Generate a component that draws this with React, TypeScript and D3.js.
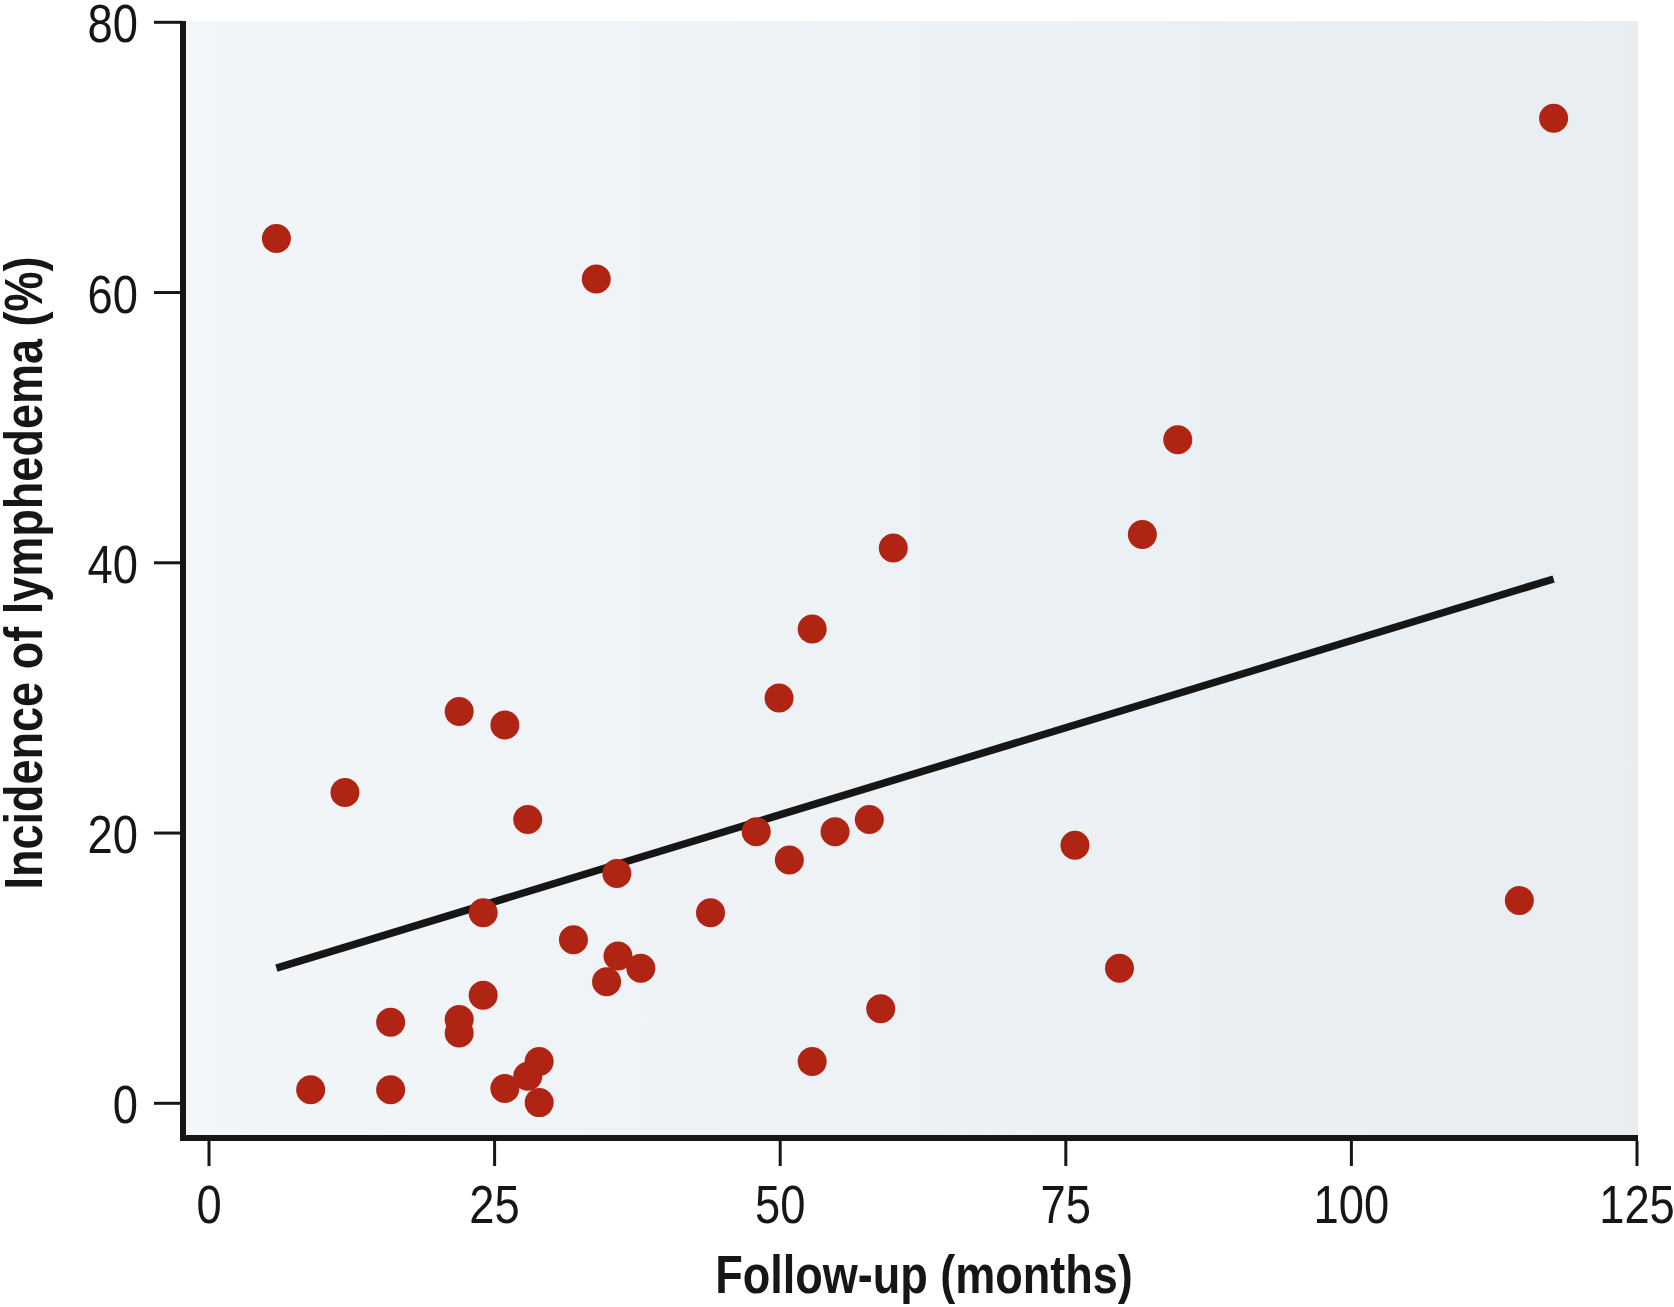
import React from "react";
import * as d3 from "d3";

const followUp = [5.9, 8.9, 11.9, 15.9, 15.9, 21.9, 21.9, 21.9, 24.0, 24.0, 25.9, 25.9, 27.9, 27.9, 28.9, 28.9, 31.9, 33.9, 34.8, 35.7, 35.8, 37.8, 43.9, 47.9, 49.9, 50.8, 52.8, 52.8, 54.8, 57.8, 58.8, 59.9, 75.8, 79.7, 81.7, 84.8, 114.7, 117.7];
const incidence = [64.0, 1.0, 23.0, 6.0, 1.0, 29.0, 6.2, 5.2, 14.1, 8.0, 28.0, 1.1, 21.0, 2.0, 3.1, 0.05, 12.1, 61.0, 9.0, 17.0, 10.9, 10.0, 14.1, 20.1, 30.0, 18.0, 35.1, 3.1, 20.1, 21.0, 7.0, 41.1, 19.1, 10.0, 42.1, 49.1, 15.0, 72.9];
const trendX = [5.9, 117.7];
const trendY = [10.0, 38.8];
const xTicks = [0, 25, 50, 75, 100, 125];
const yTicks = [0, 20, 40, 60, 80];
const xTitle = "Follow-up (months)";
const yTitle = "Incidence of lymphedema (%)";

const W = 1674;
const H = 1307;
const FONT = "'Liberation Sans', Arial, sans-serif";

export default function App() {
  const x = d3.scaleLinear().domain([0, 125]).range([209, 1637]);
  const y = d3.scaleLinear().domain([0, 80]).range([1103.3, 22.3]);
  const line = d3
    .line<number>()
    .x((d) => x(d))
    .y((_, i) => y(trendY[i]));

  const plotLeft = 183;
  const plotRight = 1638;
  const plotTop = 21;
  const plotBottom = 1138;

  return (
    <svg width={W} height={H} style={{ position: "absolute", left: 0, top: 0, background: "#fff" }}>
      <defs>
        <linearGradient id="bg" x1="0" x2="1" y1="0" y2="0">
          <stop offset="0" stopColor="#f3f6f9" />
          <stop offset="1" stopColor="#e7edf1" />
        </linearGradient>
      </defs>
      <rect x={plotLeft} y={plotTop} width={plotRight - plotLeft} height={plotBottom - plotTop} fill="url(#bg)" />

      {/* trend line */}
      <path d={line(trendX) || ""} stroke="#161616" strokeWidth={7.5} fill="none" />

      {/* points */}
      {followUp.map((fx, i) => (
        <circle key={i} cx={x(fx)} cy={y(incidence[i])} r={14.5} fill="#b02414" />
      ))}

      {/* axes */}
      <line x1={plotLeft} x2={plotLeft} y1={plotTop} y2={plotBottom + 3} stroke="#161616" strokeWidth={6} />
      <line x1={plotLeft - 3} x2={plotRight} y1={plotBottom} y2={plotBottom} stroke="#161616" strokeWidth={6} />

      {yTicks.map((t) => (
        <g key={"y" + t}>
          <line x1={154} x2={plotLeft} y1={y(t)} y2={y(t)} stroke="#161616" strokeWidth={3} />
          <g transform={`translate(138,${y(t) + 20}) scale(0.84,1)`}>
            <text textAnchor="end" fontFamily={FONT} fontSize={54} fill="#161616">
              {t}
            </text>
          </g>
        </g>
      ))}

      {xTicks.map((t) => (
        <g key={"x" + t}>
          <line x1={x(t)} x2={x(t)} y1={plotBottom + 3} y2={1166} stroke="#161616" strokeWidth={3} />
          <g transform={`translate(${x(t)},1223) scale(0.84,1)`}>
            <text textAnchor="middle" fontFamily={FONT} fontSize={54} fill="#161616">
              {t}
            </text>
          </g>
        </g>
      ))}

      <g transform={`translate(924,1293) scale(0.85,1)`}>
        <text textAnchor="middle" fontFamily={FONT} fontWeight="bold" fontSize={53} fill="#161616">
          {xTitle}
        </text>
      </g>
      <g transform={`translate(42,573) rotate(-90) scale(0.85,1)`}>
        <text textAnchor="middle" fontFamily={FONT} fontWeight="bold" fontSize={53} fill="#161616">
          {yTitle}
        </text>
      </g>
    </svg>
  );
}
